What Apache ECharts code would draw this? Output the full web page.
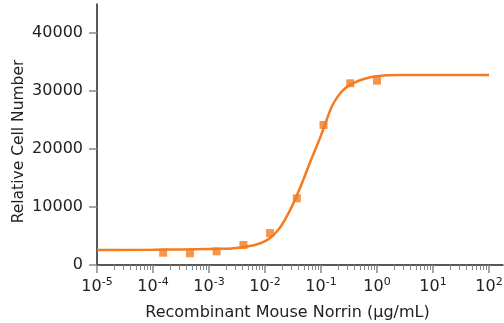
<!DOCTYPE html>
<html><head><meta charset="utf-8">
<script src="https://cdn.jsdelivr.net/npm/echarts@6/dist/echarts.min.js"></script>
<style>html,body{margin:0;padding:0;background:#fff}#c{width:504px;height:323px}</style>
</head><body><div id="c"></div>
<script>
// measured concentrations (µg/mL) and relative cell numbers
const concentrations = [0.000152, 0.000457, 0.00137, 0.00412, 0.0123, 0.037, 0.111, 0.333, 1.0];
const cellNumbers = [2120, 2020, 2360, 3450, 5500, 11500, 24140, 31330, 31780];
// fitted curve (log10 concentration, value)
const fitLogConc = [-5, -4, -3.5, -3, -2.8, -2.6, -2.5, -2.4, -2.3, -2.2, -2.1, -2.0, -1.9, -1.8, -1.7, -1.6, -1.5, -1.4, -1.3, -1.2, -1.1, -1.0, -0.9, -0.8, -0.7, -0.6, -0.5, -0.4, -0.3, -0.2, -0.1, 0.0, 0.2, 0.5, 1.0, 2.0];
const fitValues = [2600, 2640, 2690, 2760, 2800, 2860, 2950, 3070, 3220, 3420, 3700, 4100, 4750, 5650, 6900, 8600, 10500, 12700, 15100, 17600, 19950, 22350, 25000, 27450, 29050, 30200, 30950, 31450, 31850, 32150, 32400, 32550, 32700, 32760, 32780, 32780];
const xMajorExponents = [-5, -4, -3, -2, -1, 0, 1, 2];
const yTicks = [0, 10000, 20000, 30000, 40000];

const minorTicks = [];
for (let d = -5; d < 3; d++) for (let k = 2; k <= 9; k++) {
  const v = d + Math.log10(k);
  if (v <= 2.25) minorTicks.push(v);
}
const orange = '#F47B20';
const font = 'DejaVu Sans';
const chart = echarts.init(document.getElementById('c'));
chart.setOption({
  animation: false,
  grid: {left: 97, right: 1, top: 4, bottom: 58, outerBoundsMode: 'none', containLabel: false},
  xAxis: [{
    type: 'value', min: -5, max: 2.25,
    name: 'Recombinant Mouse Norrin (\u03bcg/mL)', nameLocation: 'middle', nameGap: 40,
    nameTextStyle: {fontFamily: font, fontSize: 16, color: '#222', padding: [0, 25, 0, 0]},
    axisLine: {onZero: false, lineStyle: {color: '#222', width: 1.5}},
    axisTick: {length: 8, customValues: xMajorExponents, lineStyle: {color: '#888', width: 1.5}},
    splitLine: {show: false},
    axisLabel: {
      customValues: xMajorExponents, margin: 12,
      formatter: v => '{b|10}{s|' + v + '}',
      rich: {b: {fontFamily: font, fontSize: 16, color: '#222'}, s: {fontFamily: font, fontSize: 11, color: '#222', padding: [0, 0, 8, 0]}}
    }
  }, {
    type: 'value', min: -5, max: 2.25, position: 'bottom',
    axisLine: {show: false, onZero: false},
    axisTick: {length: 5, customValues: minorTicks, lineStyle: {color: '#888', width: 1}},
    axisLabel: {show: false}, splitLine: {show: false}
  }],
  yAxis: {
    type: 'value', min: 0, max: 45000,
    name: 'Relative Cell Number', nameLocation: 'middle', nameGap: 70, nameMoveOverlap: false,
    nameTextStyle: {fontFamily: font, fontSize: 15.5, color: '#222', padding: [0, 14, 0, 0]},
    axisLine: {show: true, onZero: false, lineStyle: {color: '#222', width: 1.5}},
    axisTick: {show: true, length: 8, customValues: yTicks, lineStyle: {color: '#888', width: 1.5}},
    axisLabel: {customValues: yTicks, margin: 14, fontFamily: font, fontSize: 16, color: '#222', formatter: v => String(v)},
    splitLine: {show: false}
  },
  series: [{
    type: 'line', xAxisIndex: 0, showSymbol: false, smooth: 0.5,
    lineStyle: {color: orange, width: 2.5},
    data: fitLogConc.map((x, i) => [x, fitValues[i]])
  }, {
    type: 'scatter', xAxisIndex: 0, symbol: 'rect', symbolSize: 8,
    itemStyle: {color: orange},
    data: concentrations.map((c, i) => [Math.log10(c), cellNumbers[i]])
  }]
});
</script></body></html>
